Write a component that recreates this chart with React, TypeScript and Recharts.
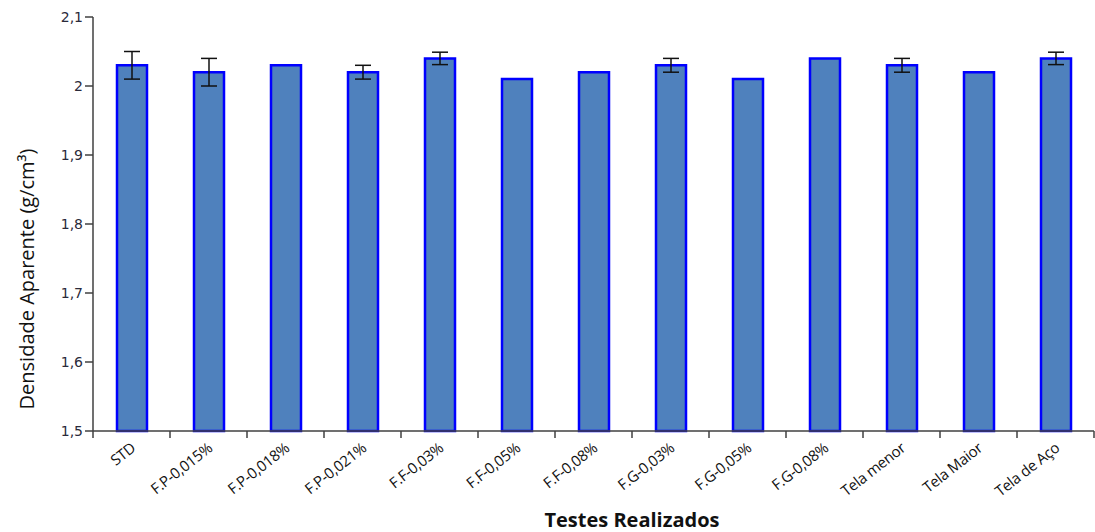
import { BarChart, Bar, XAxis, YAxis, ErrorBar } from 'recharts';

const categories = [
  'STD', 'F.P-0,015%', 'F.P-0,018%', 'F.P-0,021%', 'F.F-0,03%', 'F.F-0,05%', 'F.F-0,08%',
  'F.G-0,03%', 'F.G-0,05%', 'F.G-0,08%', 'Tela menor', 'Tela Maior', 'Tela de Aço',
];
const densidade = [2.03, 2.02, 2.03, 2.02, 2.04, 2.01, 2.02, 2.03, 2.01, 2.04, 2.03, 2.02, 2.04];
const desvio = [0.02, 0.02, 0, 0.01, 0.009, 0, 0, 0.01, 0, 0, 0.01, 0, 0.009];
const yTicks = [1.5, 1.6, 1.7, 1.8, 1.9, 2, 2.1];

const data = categories.map((name, i) => ({ name, value: densidade[i], err: desvio[i] }));

const STEP = 1001 / categories.length;

function XTick(props: any) {
  const { x, y, payload, index } = props;
  return (
    <g>
      <line x1={x - STEP / 2} y1={y - 8} x2={x - STEP / 2} y2={y - 1} stroke="#404040" strokeWidth={1.5} />
      {index === categories.length - 1 && (
        <line x1={x + STEP / 2} y1={y - 8} x2={x + STEP / 2} y2={y - 1} stroke="#404040" strokeWidth={1.5} />
      )}
      <text
        x={x + 5}
        y={y + 11}
        textAnchor="end"
        transform={`rotate(-38, ${x + 5}, ${y + 11})`}
        fontFamily="'Open Sans', sans-serif"
        fontSize={15}
        letterSpacing={-0.3}
        fill="#111"
      >
        {payload.value}
      </text>
    </g>
  );
}

export default function App() {
  return (
    <div style={{ position: 'absolute', left: 0, top: 0, background: '#fff' }}>
      <BarChart
        width={1095}
        height={532}
        data={data}
        margin={{ top: 17, right: 1, bottom: 0, left: 0 }}
      >
        <XAxis
          dataKey="name"
          interval={0}
          height={101}
          tickLine={false}
          axisLine={{ stroke: '#404040', strokeWidth: 1.5 }}
          tick={<XTick />}
          label={{
            content: () => (
              <text
                x={632}
                y={527}
                textAnchor="middle"
                fontFamily="'Open Sans', sans-serif"
                fontWeight="bold"
                fontSize={20}
                fill="#111"
              >
                Testes Realizados
              </text>
            ),
          }}
        />
        <YAxis
          width={93}
          domain={[1.5, 2.1]}
          ticks={yTicks}
          interval={0}
          tickSize={8}
          tickLine={{ stroke: '#404040', strokeWidth: 1.5 }}
          axisLine={{ stroke: '#404040', strokeWidth: 1.5 }}
          tick={{ fontFamily: "'DejaVu Sans', sans-serif", fontSize: 14, fill: '#2a2a3a' }}
          tickFormatter={(v: number) => String(v).replace('.', ',')}
          label={{
            content: () => (
              <text
                x={0}
                y={0}
                textAnchor="middle"
                transform="translate(34, 279) rotate(-90)"
                fontFamily="'Open Sans', sans-serif"
                fontSize={20}
                fill="#111"
              >
                Densidade Aparente (g/cm³)
              </text>
            ),
          }}
        />
        <Bar
          dataKey="value"
          barSize={30}
          fill="#4F81BD"
          stroke="#0000FF"
          strokeWidth={2.5}
          isAnimationActive={false}
        >
          <ErrorBar dataKey="err" width={8} stroke="#111" strokeWidth={1.5} direction="y" />
        </Bar>
      </BarChart>
    </div>
  );
}
